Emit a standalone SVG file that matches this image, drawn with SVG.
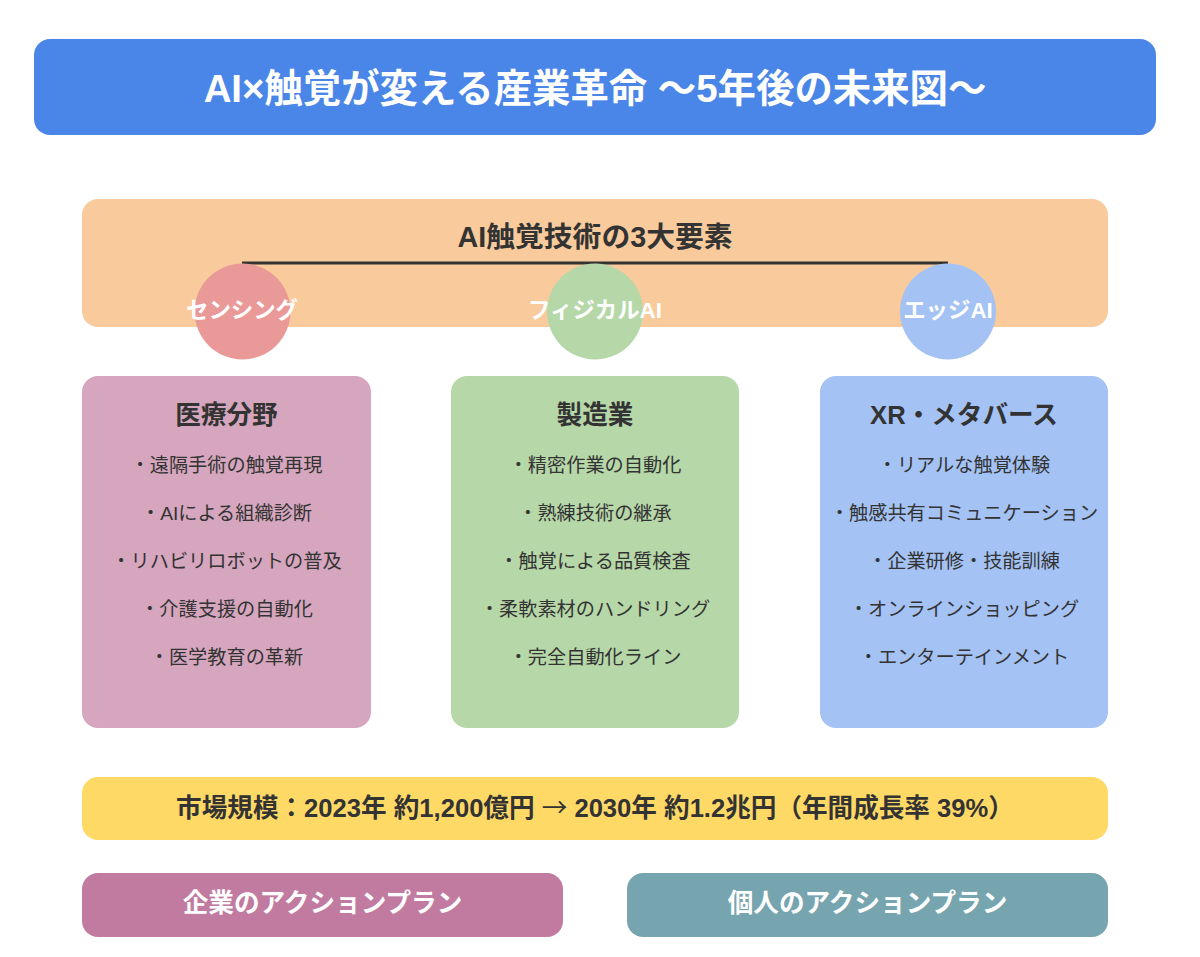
<svg xmlns="http://www.w3.org/2000/svg" width="1200" height="957" viewBox="0 0 1200 957">
<style>
text{font-family:"Liberation Sans","Noto Sans CJK JP",sans-serif;text-anchor:middle}
.t{font-size:38.400px;font-weight:700;fill:#fff}
.h{font-size:28.800px;font-weight:700;fill:#333}
.k{font-size:25.600px;font-weight:700;fill:#333}
.c{font-size:22.400px;font-weight:700;fill:#fff}
.i{font-size:19.200px;fill:#333}
.a{font-size:25.600px;font-weight:700;fill:#fff}
.r{font-family:"Noto Sans CJK JP",sans-serif;font-weight:400}
</style>
<rect width="1200" height="957" fill="#fff"/>
<g id="title"><rect x="34" y="39" width="1122" height="96" rx="16" fill="#4a86e8"/><text class="t" x="595" y="102">AI×触覚が変える産業革命 〜5年後の未来図〜</text></g>
<g id="elements"><rect x="82" y="199" width="1026" height="128" rx="16" fill="#f9cb9c"/><text class="h" x="595" y="247">AI触覚技術の3大要素</text></g>
<g id="connectors"><line x1="242" y1="263" x2="948" y2="263" stroke="#333" stroke-width="3"/></g>
<g id="sensing"><circle cx="242.500" cy="311.500" r="48" fill="#ea9999"/><text class="c" x="242" y="318">センシング</text></g>
<g id="physical"><circle cx="595" cy="311.500" r="48" fill="#b6d7a8"/><text class="c" x="595" y="318">フィジカルAI</text></g>
<g id="edge"><circle cx="948" cy="311.500" r="48" fill="#a4c2f4"/><text class="c" x="948" y="318">エッジAI</text></g>
<g id="medical"><rect x="82" y="376" width="289" height="352" rx="16" fill="#d5a6bd"/><text class="k" x="226.500" y="424">医療分野</text>
<text class="i" x="226.500" y="471.500">・遠隔手術の触覚再現</text><text class="i" x="226.500" y="519.500">・AIによる組織診断</text><text class="i" x="226.500" y="567.500">・リハビリロボットの普及</text><text class="i" x="226.500" y="615.500">・介護支援の自動化</text><text class="i" x="226.500" y="663.500">・医学教育の革新</text></g>
<g id="manufacturing"><rect x="451" y="376" width="288" height="352" rx="16" fill="#b6d7a8"/><text class="k" x="595" y="424">製造業</text>
<text class="i" x="595" y="471.500">・精密作業の自動化</text><text class="i" x="595" y="519.500">・熟練技術の継承</text><text class="i" x="595" y="567.500">・触覚による品質検査</text><text class="i" x="595" y="615.500">・柔軟素材のハンドリング</text><text class="i" x="595" y="663.500">・完全自動化ライン</text></g>
<g id="xr"><rect x="820" y="376" width="288" height="352" rx="16" fill="#a4c2f4"/><text class="k" x="964" y="424">XR・メタバース</text>
<text class="i" x="964" y="471.500">・リアルな触覚体験</text><text class="i" x="964" y="519.500">・触感共有コミュニケーション</text><text class="i" x="964" y="567.500">・企業研修・技能訓練</text><text class="i" x="964" y="615.500">・オンラインショッピング</text><text class="i" x="964" y="663.500">・エンターテインメント</text></g>
<g id="market"><rect x="82" y="777" width="1026" height="63" rx="16" fill="#ffd966"/><text class="k" x="595" y="817">市場規模：2023年 約1,200億円 <tspan class="r">→</tspan> 2030年 約1.2兆円（年間成長率 39%）</text></g>
<g id="corporate"><rect x="82" y="873" width="481" height="64" rx="16" fill="#c27ba0"/><text class="a" x="322.500" y="912">企業のアクションプラン</text></g>
<g id="personal"><rect x="627" y="873" width="481" height="64" rx="16" fill="#76a5af"/><text class="a" x="867.500" y="912">個人のアクションプラン</text></g>
</svg>
